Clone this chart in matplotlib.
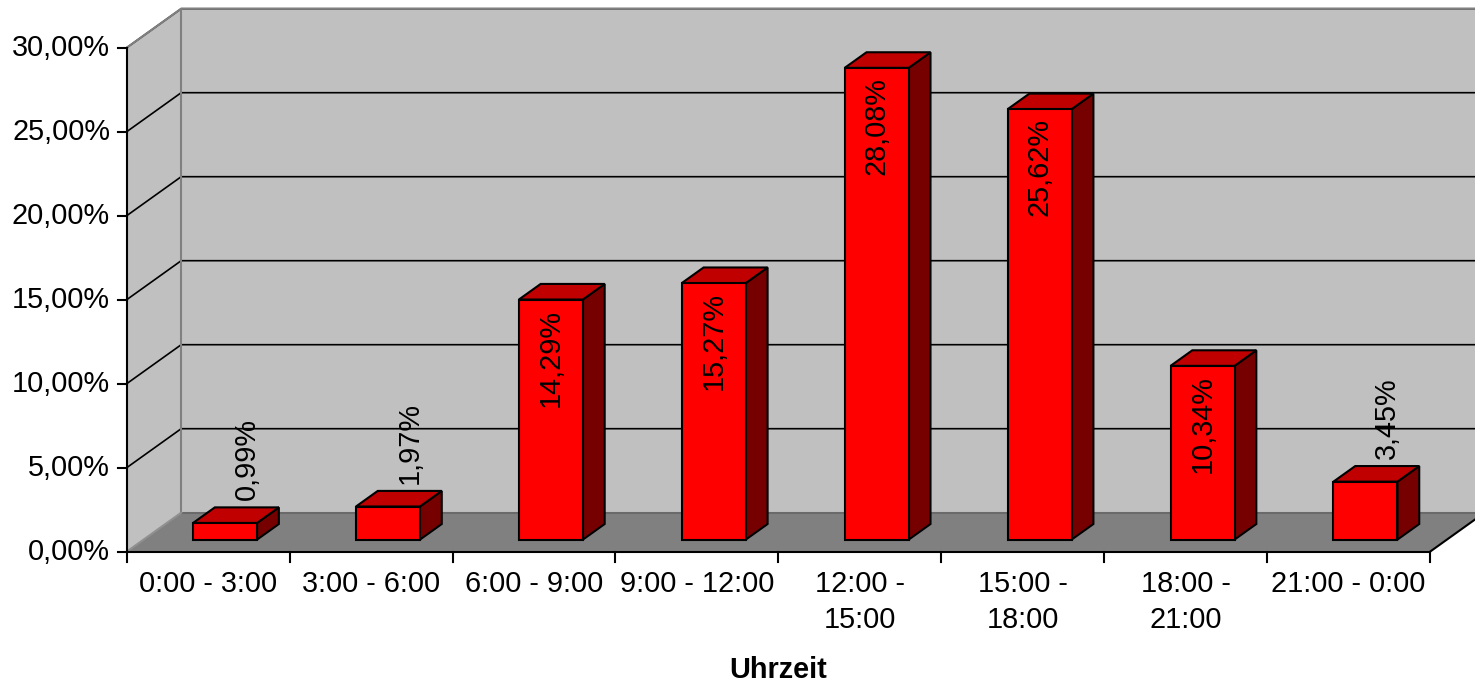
import matplotlib
matplotlib.use("Agg")
import matplotlib.pyplot as plt
from matplotlib.patches import Polygon

# ------------------------------------------------------------
#  Daten
# ------------------------------------------------------------
categories = ["0:00 - 3:00", "3:00 - 6:00", "6:00 - 9:00", "9:00 - 12:00",
              "12:00 -\n15:00", "15:00 -\n18:00", "18:00 -\n21:00", "21:00 - 0:00"]
values = [0.99, 1.97, 14.29, 15.27, 28.08, 25.62, 10.34, 3.45]
y_ticks = [0, 5, 10, 15, 20, 25, 30]
x_title = "Uhrzeit"


def pct(v):
    return f"{v:.2f}%".replace(".", ",")


plt.rcParams["font.family"] = ["Liberation Sans", "DejaVu Sans"]
FS = 20.8

# Layout in Pixeln (Figur 1475 x 682)
W, H = 1475, 682
x0_px, x1_px = 126.7, 1430.0
y0_px, px_per_pct = 551.7, 16.8
depth_px = (54.5, 39.0)

n = len(categories)
cat_px = (x1_px - x0_px) / n

fig = plt.figure(figsize=(W / 100, H / 100), dpi=100)
ax = fig.add_axes([0, 0, 1, 1])
ax.set_xlim(-x0_px / cat_px, (W - x0_px) / cat_px)
ax.set_ylim((y0_px - H) / px_per_pct, y0_px / px_per_pct)
ax.axis("off")

ddx = depth_px[0] / cat_px
ddy = depth_px[1] / px_per_pct
ymax = y_ticks[-1]

wall = "#C0C0C0"
floor = "#808080"

# Wände und Boden
ax.add_patch(Polygon([(ddx, ddy), (n + ddx, ddy), (n + ddx, ymax + ddy), (ddx, ymax + ddy)],
                     closed=True, facecolor=wall, edgecolor="none", zorder=1))
ax.add_patch(Polygon([(0, 0), (ddx, ddy), (ddx, ymax + ddy), (0, ymax)],
                     closed=True, facecolor=wall, edgecolor="none", zorder=1))
ax.add_patch(Polygon([(0, 0), (n, 0), (n + ddx, ddy), (ddx, ddy)],
                     closed=True, facecolor=floor, edgecolor="none", zorder=1))

# Gitternetz (Rückwand + Seitenwand)
for t in y_ticks[1:]:
    ax.plot([0, ddx, n + ddx], [t, t + ddy, t + ddy], color="black", lw=1.2, zorder=2)

# Kanten
ax.plot([ddx, ddx], [ddy, ymax + ddy], color="#808080", lw=1.5, zorder=2)
ax.plot([ddx, n + ddx], [ddy, ddy], color="#6a6a6a", lw=1.5, zorder=2)
ax.plot([0, ddx], [0, ddy], color="#909090", lw=1.5, zorder=2)
ax.plot([0, ddx, n + ddx], [ymax, ymax + ddy, ymax + ddy], color="#808080", lw=1.5, zorder=2)
ax.plot([n, n + ddx], [0, ddy], color="black", lw=1.5, zorder=3)

# Achsen
ax.plot([0, n], [0, 0], color="black", lw=1.5, zorder=3)
ax.plot([0, 0], [0, ymax], color="black", lw=1.5, zorder=3)
tick_len_x = 9 / cat_px
tick_len_y = 10 / px_per_pct
for t in y_ticks:
    ax.plot([-tick_len_x, 0], [t, t], color="black", lw=1.5, zorder=3)
    ax.annotate(pct(t), xy=(0, t), xytext=(-12, 0), textcoords="offset points",
                ha="right", va="center", fontsize=FS)
for i in range(n + 1):
    ax.plot([i, i], [0, -tick_len_y], color="black", lw=1.5, zorder=3)

for i, lab in enumerate(categories):
    ax.annotate(lab, xy=(i + 0.5, 0), xytext=(0, -13), textcoords="offset points",
                ha="center", va="top", fontsize=FS, linespacing=1.37)

ax.text(n / 2, (y0_px - 670) / px_per_pct, x_title, ha="center", va="center",
        fontsize=FS, fontweight="bold")

# 3D-Säulen
bw = 64 / cat_px
d0, d1 = 0.31, 0.71
front_c, top_c, side_c = "#FF0000", "#C00000", "#760000"
for i, v in enumerate(values):
    xl = i + (1 - bw) / 2 + d0 * ddx
    xr = xl + bw
    yb = d0 * ddy
    yt = yb + v
    sx, sy = (d1 - d0) * ddx, (d1 - d0) * ddy
    kw = dict(closed=True, edgecolor="black", lw=1.5, joinstyle="miter", zorder=4)
    ax.add_patch(Polygon([(xr, yb), (xr + sx, yb + sy), (xr + sx, yt + sy), (xr, yt)],
                         facecolor=side_c, **kw))
    ax.add_patch(Polygon([(xl, yt), (xr, yt), (xr + sx, yt + sy), (xl + sx, yt + sy)],
                         facecolor=top_c, **kw))
    ax.add_patch(Polygon([(xl, yb), (xr, yb), (xr, yt), (xl, yt)],
                         facecolor=front_c, **kw))

    # Datenbeschriftung
    if v > 6:
        ax.annotate(pct(v), xy=((xl + xr) / 2, yt), xytext=(0, -6.5), textcoords="offset points",
                    rotation=90, ha="center", va="top", fontsize=FS, zorder=5)
    else:
        ax.annotate(pct(v), xy=((xl + xr) / 2 + sx, yt + sy), xytext=(0, 5),
                    textcoords="offset points", rotation=90, ha="center", va="bottom",
                    fontsize=FS, zorder=5)

fig.savefig("out.png", dpi=100)
